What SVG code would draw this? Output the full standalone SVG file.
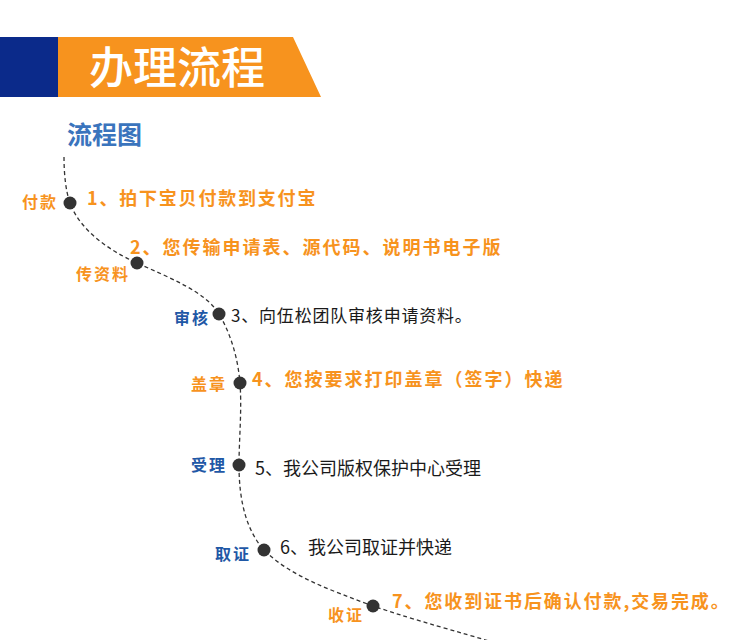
<svg xmlns="http://www.w3.org/2000/svg" width="750" height="640" viewBox="0 0 750 640">
<style>
text{font-family:"Noto Sans CJK SC","Noto Sans",sans-serif}
.hd{font-size:44px;fill:#fff;font-weight:500}
.ttl{font-size:25px;fill:#3a74bd;font-weight:bold}
.o{fill:#f7931e;font-weight:bold;font-size:18px}
.k{fill:#1a1a1a;font-size:17px}
.lo{fill:#f7931e;font-weight:bold;font-size:16px;letter-spacing:2px}
.lb{fill:#1f58a6;font-weight:bold;font-size:16px;letter-spacing:2px}
.dot{fill:#333}
.conn{fill:none;stroke:#333;stroke-width:1.3;stroke-dasharray:4 3}
</style>
<rect width="750" height="640" fill="#fff"/>
<g id="header">
<rect x="0" y="37" width="58" height="60" fill="#0b2a8a"/>
<polygon points="58,37 293,37 321,97 58,97" fill="#f7931e"/>
<text class="hd" x="89" y="84">办理流程</text>
</g>
<g id="title"><text class="ttl" x="67" y="144">流程图</text></g>
<g id="connectors">
<path class="conn" d="M64,157 C64,175 66,192 70,203 C80,230 108,250 137,263 C170,278 206,292 219,314 C232,336 238,360 240,383 C242,410 239,440 239,465 C239,500 246,530 264,550 C290,576 330,590 373,606 C420,622 460,632 492,642"/>
</g>
<g id="step1"><circle class="dot" cx="70" cy="203" r="6.5"/><text class="lo" x="22" y="208">付款</text><text class="o" x="87" y="205" style="letter-spacing:1.8px">1、拍下宝贝付款到支付宝</text></g>
<g id="step2"><circle class="dot" cx="137" cy="263" r="6.5"/><text class="lo" x="76" y="280">传资料</text><text class="o" x="130" y="254" style="letter-spacing:2px">2、您传输申请表、源代码、说明书电子版</text></g>
<g id="step3"><circle class="dot" cx="219" cy="314" r="6.5"/><text class="lb" x="174" y="324">审核</text><text class="k" x="231" y="322" style="letter-spacing:0.8px">3、向伍松团队审核申请资料。</text></g>
<g id="step4"><circle class="dot" cx="240" cy="383" r="6.5"/><text class="lo" x="191" y="390">盖章</text><text class="o" x="252" y="386" style="letter-spacing:2px">4、您按要求打印盖章（签字）快递</text></g>
<g id="step5"><circle class="dot" cx="239" cy="465" r="6.5"/><text class="lb" x="191" y="471">受理</text><text class="k" x="255" y="475" style="font-size:18px">5、我公司版权保护中心受理</text></g>
<g id="step6"><circle class="dot" cx="264" cy="550" r="6.5"/><text class="lb" x="215" y="560">取证</text><text class="k" x="280" y="554" style="font-size:18px">6、我公司取证并快递</text></g>
<g id="step7"><circle class="dot" cx="373" cy="606" r="6.5"/><text class="lo" x="328" y="621">收证</text><text class="o" x="392" y="608" style="letter-spacing:1.9px">7、您收到证书后确认付款,交易完成。</text></g>
</svg>
